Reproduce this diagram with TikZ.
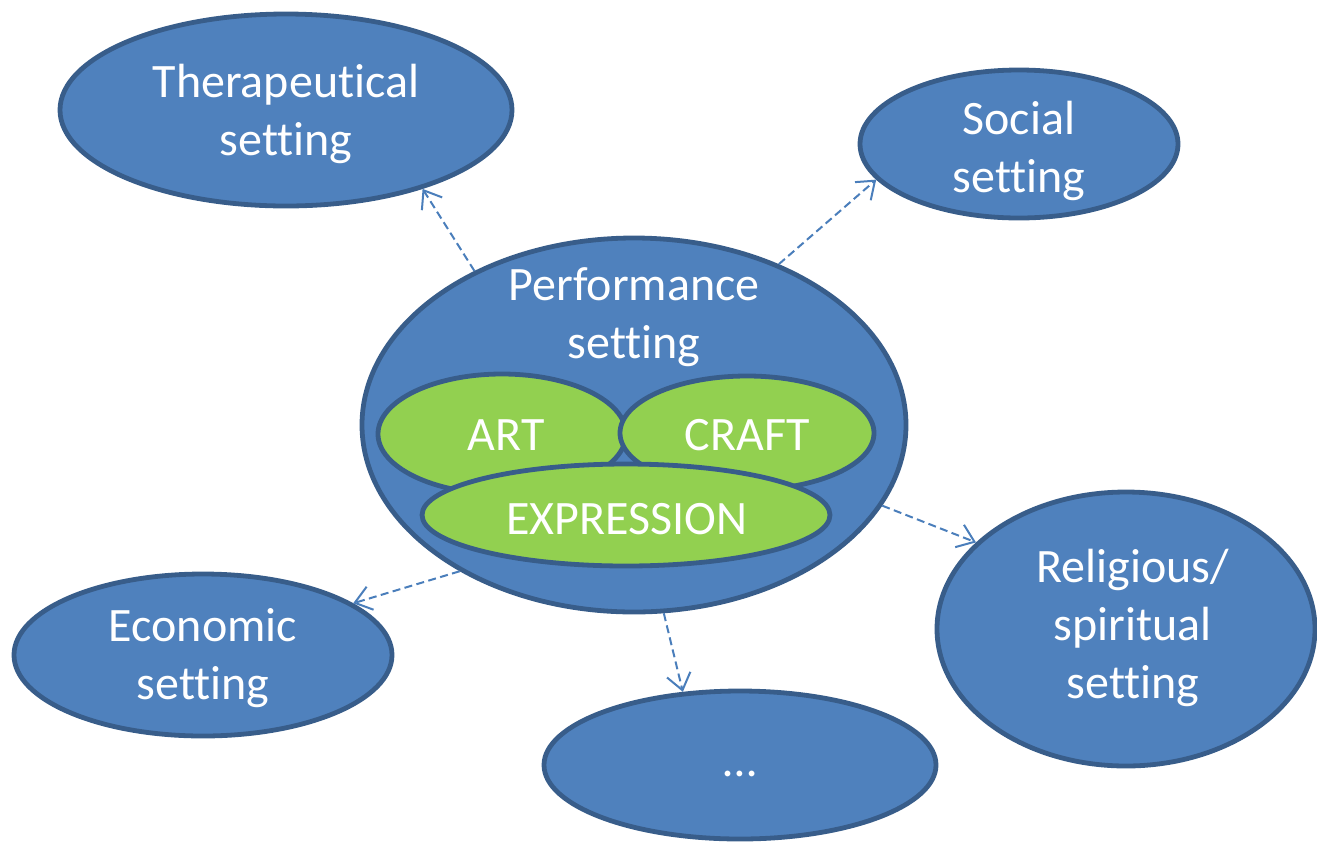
\documentclass[tikz,border=0pt]{standalone}
\usepackage{fontspec}
\setmainfont[Ligatures=NoCommon]{Carlito}
\usetikzlibrary{shapes.geometric,arrows.meta}
\definecolor{bfill}{HTML}{4F81BD}
\definecolor{bline}{HTML}{385D8A}
\definecolor{gfill}{HTML}{92D050}
\definecolor{arr}{HTML}{4A7EBB}
\begin{document}
\begin{tikzpicture}[x=0.5pt,y=-0.5pt,
  every node/.style={font=\fontsize{24}{29}\selectfont, text=white, align=center},
  blob/.style={ellipse, draw=bline, fill=bfill, line width=2.4pt, inner sep=0pt},
  gblob/.style={ellipse, draw=bline, fill=gfill, line width=2.4pt, inner sep=0pt},
  link/.style={arr, line width=1pt, dash pattern=on 4pt off 2.2pt, -{Straight Barb[length=8pt,width=12pt,line width=1pt]}}]
\useasboundingbox (0,0) rectangle (1317,842);
\node[blob, minimum width=226pt, minimum height=96pt] (ther) at (286,110) {};
\node (thertext) at (286,114) {Therapeutical\\setting};
\node[blob, minimum width=159pt, minimum height=74pt] (soc) at (1019,144) {};
\node (soctext) at (1019,151) {Social\\setting};
\node[blob, minimum width=189pt, minimum height=81pt] (econ) at (203,655) {};
\node (econtext) at (203,658) {Economic\\setting};
\node[blob, minimum width=196pt, minimum height=74pt] (dots) at (740,765) {};
\node (dotstext) at (740,774) {\dots};
\node[blob, minimum width=189pt, minimum height=137pt] (rel) at (1126,629) {};
\node at (1133,628) (reltext) {Religious/\\spiritual\\setting};
\node[blob, minimum width=272pt, minimum height=187pt] (perf) at (634,425) {};
\node (perftext) at (634,317) {Performance\\setting};
\node[gblob, minimum width=124pt, minimum height=60pt] (art) at (502,434) {};
\node[gblob, minimum width=127pt, minimum height=57pt] (craft) at (747,433) {};
\node[gblob, minimum width=204pt, minimum height=51pt] (expr) at (626,515) {};
\node (arttext) at (506,435) {ART};
\node (crafttext) at (747,435) {CRAFT};
\node (exprtext) at (627,519) {EXPRESSION};
\draw[link] (perf.136.6) -- (ther.-30.9);
\draw[link] (perf.48.5) -- (soc.-166.6);
\draw[link] (perf.220.5) -- (econ.19.1);
\draw[link] (perf.-81) -- (dots.128.7);
\draw[link] (perf.-18.3) -- (rel.150.6);
\end{tikzpicture}
\end{document}
